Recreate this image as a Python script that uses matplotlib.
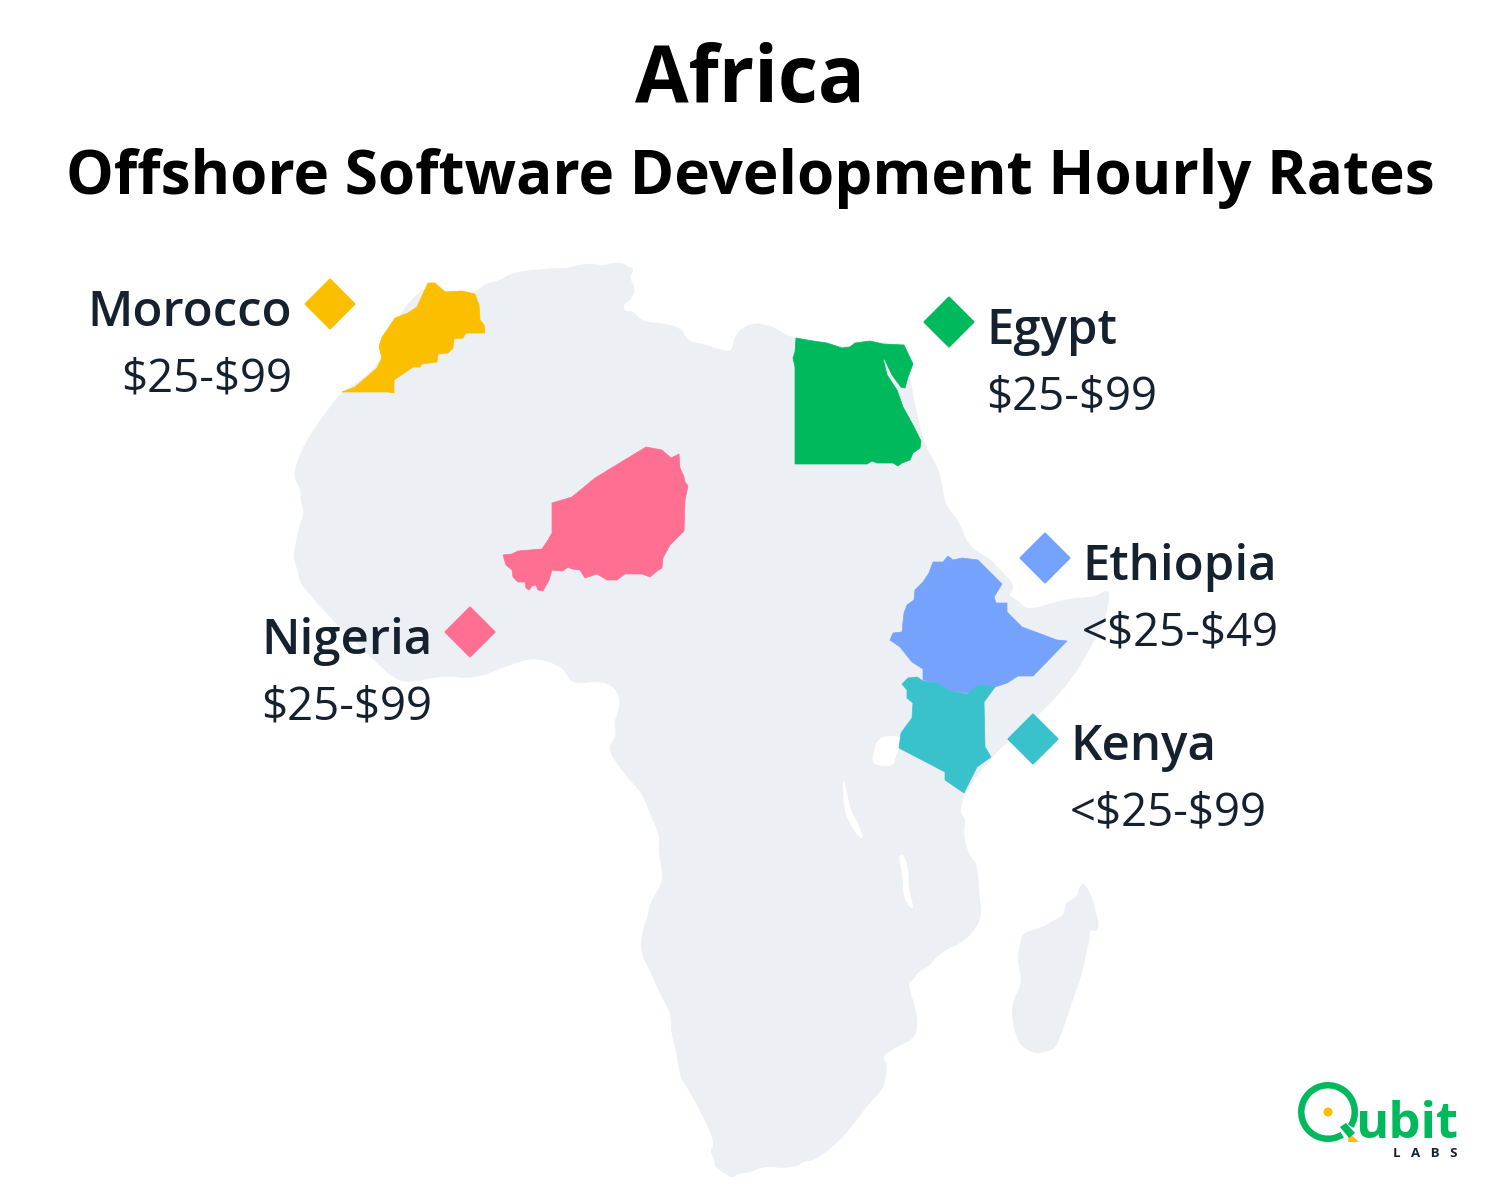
import numpy as np
import matplotlib
matplotlib.use('Agg')
import matplotlib.pyplot as plt
from matplotlib.path import Path
from matplotlib.patches import PathPatch, Polygon, Wedge, Circle

# outlines, in pixels
africa = [(475,293),(487,283),(500,281),(513,272),(560,268),(565,269),(580,265),(590,264),(605,266),(613,263),
    (623,263),(628,268),(634,268),(629,278),(635,288),(632,298),(622,305),(625,312),(633,311),(638,318),(648,323),
    (663,323),(682,329),(685,338),(693,343),(700,343),(725,352),(733,350),(735,335),(750,323),(770,325),(790,338),
    (813,341),(842,348),(870,341),(904,345),(921,441),(938,467),(942,487),(945,505),(960,523),(965,540),(977,553),
    (988,557),(1000,570),(1016,587),(1007,595),(1017,600),(1025,609),(1037,608),(1047,605),(1067,599),(1097,597),
    (1105,590),(1110,593),(1105,620),(1087,653),(1073,677),(1047,707),(1013,737),(991,757),(964,793),(959,812),
    (966,820),(963,830),(965,843),(970,858),(977,863),(979,897),(982,918),(967,940),(940,952),(928,967),(918,971),
    (913,980),(908,982),(910,993),(915,1007),(917,1018),(916,1037),(900,1045),(887,1052),(882,1058),(887,1063),
    (885,1080),(882,1090),(867,1105),(853,1125),(833,1147),(812,1161),(802,1161),(799,1166),(792,1166),(783,1168),
    (770,1166),(758,1168),(750,1172),(738,1173),(732,1178),(725,1173),(715,1167),(715,1160),(710,1150),(715,1146),
    (710,1130),(700,1110),(688,1088),(680,1077),(676,1047),(671,1032),(672,1015),(660,993),(650,970),(641,953),
    (642,932),(648,918),(650,903),(665,880),(658,852),(661,838),(650,813),(642,792),(627,777),(608,750),(613,742),
    (617,733),(614,722),(619,713),(620,692),(603,680),(575,684),(568,677),(563,667),(537,657),(513,663),(475,679),
    (443,675),(407,683),(393,677),(377,663),(323,610),(313,597),(300,583),(298,570),(293,555),(297,540),(298,530),
    (305,513),(301,502),(301,488),(293,477),(300,453),(318,423),(332,405),(342,392),(368,376),(382,358),(395,318),
    (428,283),(445,292),(462,291)]
madagascar = [(1084,882),(1093,900),(1094,908),(1099,925),(1096,932),(1089,928),(1089,943),(1086,950),(1083,970),
    (1070,1007),(1058,1043),(1052,1050),(1045,1051),(1037,1054),(1022,1047),(1017,1037),(1012,1020),(1013,1000),
    (1023,983),(1017,957),(1021,945),(1022,933),(1040,929),(1055,920),(1065,915),(1065,903),(1078,897),(1079,888)]
lake_victoria = [(877,740),(887,735),(907,738),(900,747),(895,758),(893,767),(872,765),(873,753)]
lake_tanganyika = [(843,780),(845,780),(850,810),(858,822),(860,830),(864,837),(860,839),(848,822),(843,803)]
lake_malawi = [(900,854),(905,856),(909,873),(908,887),(914,908),(911,909),(903,897),(903,877),(899,860)]

morocco = [(342,392),(355,387),(368,376),(377,368),(382,358),(379,347),(382,337),(387,330),(395,318),(408,313),
    (417,307),(428,283),(435,283),(445,292),(462,291),(475,294),(479,305),(480,320),(484,325),(485,333),(466,333),
    (463,338),(454,339),(453,348),(448,353),(438,354),(437,362),(422,364),(420,367),(413,367),(394,380),(394,393),(388,392)]
egypt = [(796,338),(813,341),(827,343),(842,348),(850,347),(855,343),(870,341),(883,344),(904,345),(913,364),(908,377),
    (905,388),(901,387),(892,375),(885,360),(883,358),(887,375),(897,390),(903,407),(913,425),(921,441),(920,448),
    (913,453),(910,460),(902,463),(898,466),(893,463),(877,463),(872,461),(867,464),(795,464),(795,367),(793,358),(795,352)]
niger = [(646,447),(662,450),(671,458),(679,454),(680,468),(684,477),(685,482),(688,486),(685,500),(684,531),(670,545),
    (663,558),(662,568),(657,571),(650,577),(642,574),(625,574),(617,580),(607,580),(597,574),(585,578),(580,570),
    (572,569),(568,567),(563,571),(552,570),(549,580),(543,591),(538,590),(536,585),(532,586),(529,590),(526,588),
    (525,582),(518,582),(513,577),(512,570),(506,565),(503,555),(512,554),(518,551),(542,549),(548,540),(552,533),
    (552,503),(572,497),(595,478)]
ethiopia = [(948,556),(953,560),(962,558),(978,560),(1002,584),(994,597),(996,603),(1007,603),(1007,612),(1022,627),
    (1057,640),(1067,641),(1033,676),(1018,676),(1007,683),(995,687),(983,685),(967,693),(950,691),(937,683),(923,680),
    (923,669),(912,662),(900,647),(890,640),(893,633),(902,632),(904,613),(907,605),(914,600),(915,590),(923,582),
    (929,573),(933,562),(943,562)]
kenya = [(902,684),(908,678),(917,677),(923,681),(937,683),(950,691),(967,694),(977,686),(983,685),(995,687),(984,702),
    (985,747),(991,757),(977,767),(964,793),(945,780),(945,772),(899,748),(901,733),(912,718),(913,703),(907,698),(907,690)]

names = ['Morocco', 'Egypt', 'Ethiopia', 'Nigeria', 'Kenya']
rates = [r'\$25-\$99', r'\$25-\$99', r'<\$25-\$49', r'\$25-\$99', r'<\$25-\$99']
shapes = [morocco, egypt, ethiopia, niger, kenya]
colors = ['#FBBF00', '#00B95C', '#74A2FC', '#FF6F91', '#39C2CC']

GREY = '#ECEFF4'
DARK = '#16212F'
FONT = 'Open Sans'


def smooth(points):
    # quadratic curves through the edge midpoints
    pts = np.array(points, dtype=float)
    mids = (pts + np.roll(pts, -1, axis=0)) / 2
    verts = [mids[-1]]
    codes = [Path.MOVETO]
    for p, m in zip(pts, mids):
        verts += [p, m]
        codes += [Path.CURVE3, Path.CURVE3]
    return Path(verts, codes)


fig = plt.figure(figsize=(15, 11.88), dpi=100)
ax = fig.add_axes([0, 0, 1, 1])
ax.set_xlim(0, 1500)
ax.set_ylim(1188, 0)
ax.axis('off')

ax.add_patch(PathPatch(smooth(africa), fc=GREY, ec=GREY, lw=0.5))
ax.add_patch(PathPatch(smooth(madagascar), fc=GREY, ec=GREY, lw=0.5))
for lake in [lake_victoria, lake_tanganyika, lake_malawi]:
    ax.add_patch(PathPatch(smooth(lake), fc='white', ec='none'))

for shape, col in zip(shapes, colors):
    ax.add_patch(Polygon(shape, closed=True, fc=col, ec=col, lw=0.5, joinstyle='round'))

ax.text(749.5, 102, 'Africa', fontsize=56, fontweight='bold', family=FONT, ha='center', va='baseline', color='black')
ax.text(750, 194, 'Offshore Software Development Hourly Rates', fontsize=43.27, fontweight='bold', family=FONT,
        ha='center', va='baseline', color='black')

marker_x = [330, 949, 1045, 470, 1033]
marker_y = [304, 322, 558, 632, 739]
ax.scatter(marker_x, marker_y, marker='D', s=620, c=colors, linewidths=1.5, edgecolors=colors, zorder=3)

name_x = [292.5, 986, 1082, 432.5, 1070]
name_y = [326, 344, 580, 654, 760]
aligns = ['right', 'left', 'left', 'right', 'left']
for name, rate, x, y, ha in zip(names, rates, name_x, name_y, aligns):
    ax.text(x, y, name, fontsize=35.4, fontweight='semibold', family=FONT, ha=ha, va='baseline', color=DARK)
    ax.text(x, y + 66, rate, fontsize=32.8, family=FONT, ha=ha, va='baseline', color=DARK)

# logo
ax.add_patch(Wedge((1328, 1112), 30, 58, 32, width=6.5, fc='#00B95C', ec='none'))
ax.add_patch(Circle((1328, 1112), 4.5, fc='#FBBF00', ec='none'))
ax.add_patch(Polygon([(1349, 1133), (1359, 1142), (1348, 1142)], closed=True, fc='#FBBF00', ec='none'))
ax.add_patch(Polygon([(1340, 1127), (1346, 1123), (1355, 1133), (1349, 1138)], closed=True, fc='#00B95C', ec='none'))
ax.text(1355, 1138, 'ubit', fontsize=36.5, fontweight='bold', family=FONT, ha='left', va='baseline', color='#00B95C')
ax.text(1393, 1157, 'L   A   B   S', fontsize=9.5, fontweight='bold', family=FONT, ha='left', va='baseline', color=DARK)

fig.savefig('out.png', dpi=100)
